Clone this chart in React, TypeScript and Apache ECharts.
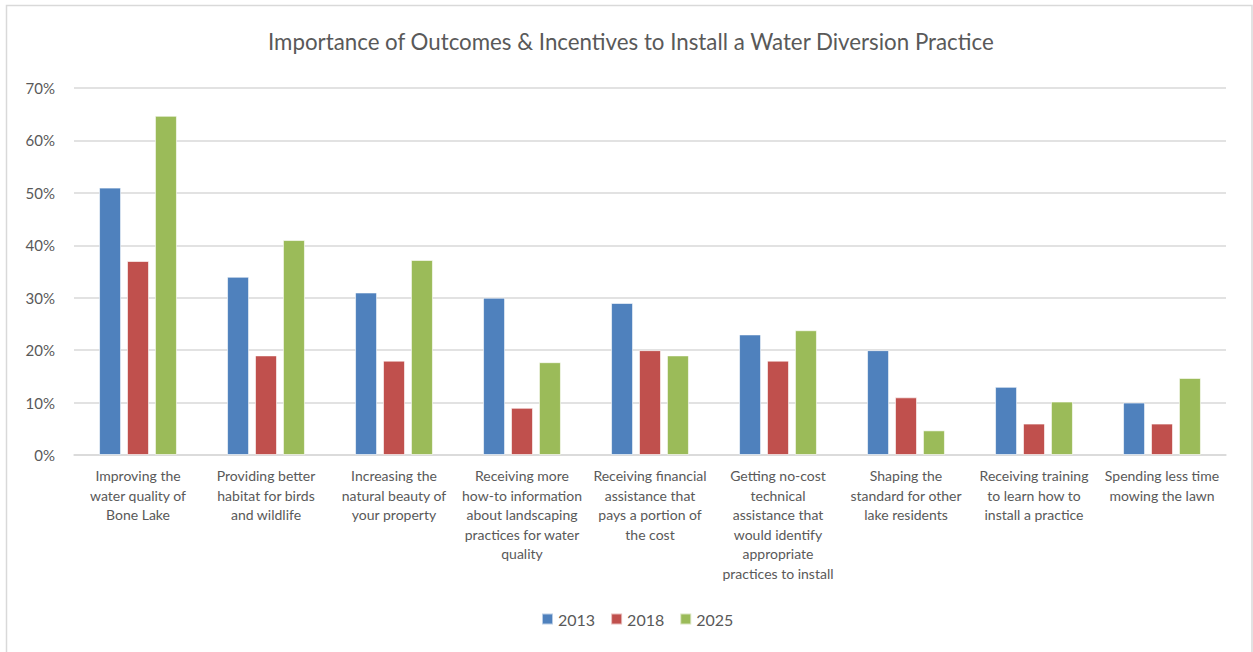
import React, { useEffect, useRef } from "react";
import * as echarts from "echarts";

const categories = [
  "Improving the\nwater quality of\nBone Lake",
  "Providing better\nhabitat for birds\nand wildlife",
  "Increasing the\nnatural beauty of\nyour property",
  "Receiving more\nhow-to information\nabout landscaping\npractices for water\nquality",
  "Receiving financial\nassistance that\npays a portion of\nthe cost",
  "Getting no-cost\ntechnical\nassistance that\nwould identify\nappropriate\npractices to install",
  "Shaping the\nstandard for other\nlake residents",
  "Receiving training\nto learn how to\ninstall a practice",
  "Spending less time\nmowing the lawn",
];

const seriesNames = ["2013", "2018", "2025"];
const values2013 = [51, 34, 31, 30, 29, 23, 20, 13, 10];
const values2018 = [37, 19, 18, 9, 20, 18, 11, 6, 6];
const values2025 = [64.7, 41, 37.2, 17.7, 19, 23.8, 4.7, 10.2, 14.7];
const colors = ["#4F81BD", "#C0504D", "#9BBB59"];
const yTicks = [0, 10, 20, 30, 40, 50, 60, 70];

const FONT = "Lato, 'Noto Sans', sans-serif";

export default function App() {
  const ref = useRef<HTMLDivElement>(null);
  useEffect(() => {
    if (!ref.current) return;
    const chart = echarts.init(ref.current, undefined, { renderer: "svg" });
    const data = [values2013, values2018, values2025];
    chart.setOption({
      animation: false,
      backgroundColor: "#ffffff",
      textStyle: { fontFamily: FONT },
      title: {
        text: "Importance of Outcomes & Incentives to Install a Water Diversion Practice",
        left: 263,
        top: 25,
        textStyle: { fontFamily: FONT, fontSize: 22.3, fontWeight: "normal", color: "#595959" },
      },
      legend: {
        bottom: 20,
        left: 536,
        itemWidth: 11,
        itemHeight: 11,
        itemGap: 15,
        icon: "rect",
        textStyle: { fontFamily: FONT, fontSize: 16, color: "#595959" },
        data: seriesNames,
      },
      grid: { left: 74, right: 27, top: 88, bottom: 652 - 455 },
      xAxis: {
        type: "category",
        data: categories,
        axisLine: { show: true, lineStyle: { color: "#D9D9D9", width: 1.5 } },
        axisTick: { show: false },
        axisLabel: {
          interval: 0,
          fontFamily: FONT,
          fontSize: 14,
          color: "#595959",
          lineHeight: 19.5,
          margin: 11,
          align: "center",
        },
      },
      yAxis: {
        type: "value",
        min: 0,
        max: 70,
        interval: 10,
        axisLine: { show: false },
        axisTick: { show: false },
        splitLine: { lineStyle: { color: "#D9D9D9", width: 1.5 } },
        axisLabel: {
          fontFamily: FONT,
          fontSize: 15,
          color: "#595959",
          margin: 19,
          formatter: (v: number) => (yTicks.includes(v) ? v + "%" : ""),
        },
      },
      series: seriesNames.map((name, i) => ({
        name,
        type: "bar",
        data: data[i],
        barWidth: 22,
        barGap: "27%",
        itemStyle: { color: colors[i], borderColor: "rgba(255,255,255,0.6)", borderWidth: 1 },
      })),
      graphic: [
        {
          type: "rect",
          shape: { x: 6.5, y: 5.5, width: 1245.5, height: 660 },
          style: { fill: "none", stroke: "#D9D9D9", lineWidth: 1.5 },
          silent: true,
        },
      ],
    });
    return () => chart.dispose();
  }, []);
  return (
    <div
      ref={ref}
      style={{ position: "fixed", left: 0, top: 0, width: 1253, height: 652 }}
    />
  );
}
